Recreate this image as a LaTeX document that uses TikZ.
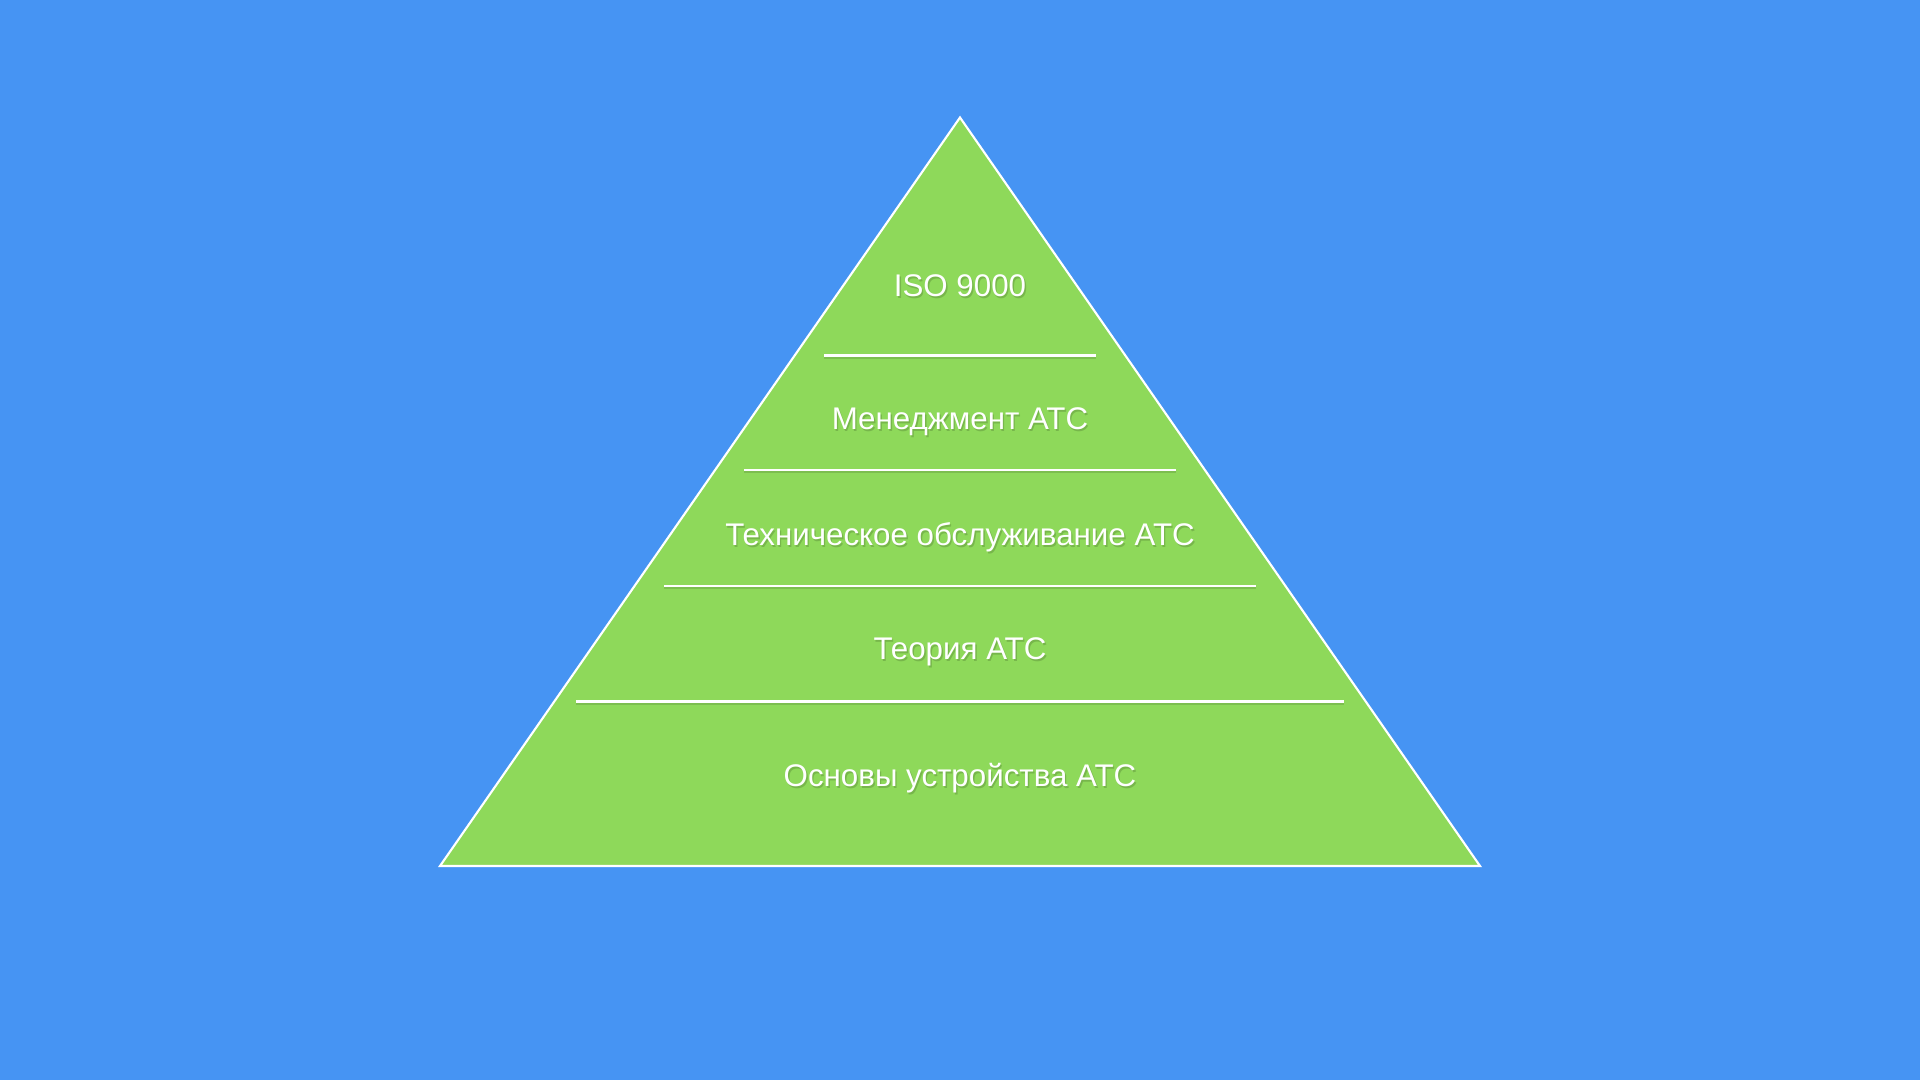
\documentclass[tikz,border=0pt]{standalone}
\usepackage{fontspec}
\setmainfont{Liberation Sans}
\usetikzlibrary{positioning}

\definecolor{skyblue}{RGB}{70,148,243}
\definecolor{leafgreen}{RGB}{142,217,90}

\begin{document}
\begin{tikzpicture}[x = 0.01cm, y = -0.01cm,
	layer/.style = {text = white, font = \fontsize{8.9pt}{10pt}\selectfont, inner sep = 0pt},
	shadowtext/.style = {text = leafgreen!55!black, opacity = 0.35, font = \fontsize{8.9pt}{10pt}\selectfont, inner sep = 0pt},
	divider/.style = {white, line width = 0.6pt}]

	% Background
	
	\fill [skyblue] (0, 0) rectangle (1920, 1080);
	\useasboundingbox (0, 0) rectangle (1920, 1080);
	
	% Pyramid
	
	\coordinate (apex) at (960, 117.5);
	\coordinate (baseL) at (440, 866);
	\coordinate (baseR) at (1480, 866);
	\draw [draw = white, fill = leafgreen, line width = 0.6pt, line join = miter] (apex) -- (baseR) -- (baseL) -- cycle;
	
	% Dividing lines
	
	\foreach \name/\yy/\half in {a/355.5/136, b/470/216, c/586/296, d/701.5/384}
	{
		\coordinate (\name L) at (960 - \half, \yy);
		\coordinate (\name R) at (960 + \half, \yy);
		\draw [leafgreen!60!black, opacity = 0.3, line width = 0.6pt] ([yshift = -0.6pt]\name L) -- ([yshift = -0.6pt]\name R);
		\draw [divider] (\name L) -- (\name R);
	}
	
	% Layer labels
	
	\foreach \name/\yy/\txt in {iso/285.5/{ISO 9000}, mgmt/421.5/{Менеджмент АТС}, maint/537/{Техническое обслуживание АТС}, theory/652/{Теория АТС}, basics/778/{Основы устройства АТС}}
	{
		\node [shadowtext] at ([shift = {(0.4pt, -0.6pt)}] 960, \yy) {\txt};
		\node [layer] (\name) at (960, \yy) {\txt};
	}
	
\end{tikzpicture}
\end{document}
